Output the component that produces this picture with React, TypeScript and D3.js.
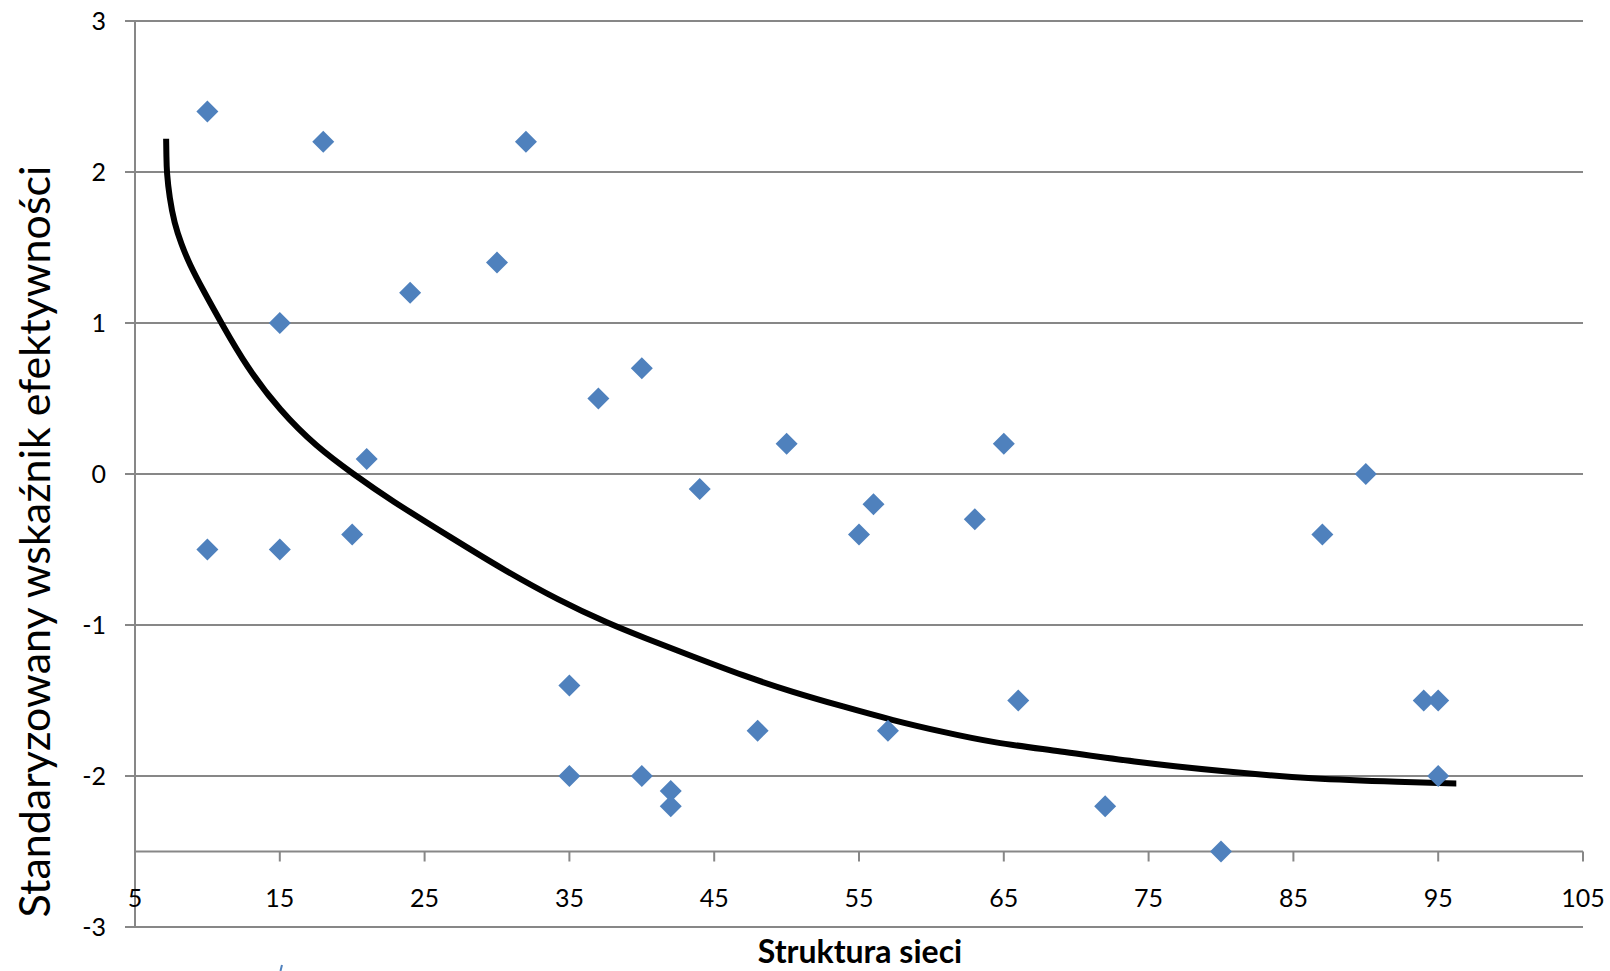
import { useEffect, useRef } from 'react';
import * as d3 from 'd3';

// Observed points (Struktura sieci vs standardized efficiency index)
const structureX = [10, 10, 15, 15, 18, 20, 21, 24, 30, 32, 35, 35, 37, 40, 40, 42, 42, 44, 48, 50, 55, 56, 57, 63, 65, 66, 72, 80, 87, 90, 94, 95, 95];
const efficiencyY = [2.4, -0.5, 1.0, -0.5, 2.2, -0.4, 0.1, 1.2, 1.4, 2.2, -1.4, -2.0, 0.5, 0.7, -2.0, -2.1, -2.2, -0.1, -1.7, 0.2, -0.4, -0.2, -1.7, -0.3, 0.2, -1.5, -2.2, -2.5, -0.4, 0.0, -1.5, -1.5, -2.0];

// Trend curve
const trendX = [7.15, 7.17, 7.19, 7.38, 7.72, 8.19, 8.76, 9.69, 10.96, 12.7, 15.0, 17.53, 20.07, 22.6, 26.98, 30.19, 34.31, 37.77, 40.07, 43.53, 46.98, 50.44, 53.9, 57.36, 60.81, 64.27, 68.88, 73.8, 80.1, 86.3, 92.6, 96.2, 96.25];
const trendY = [2.22, 2.1, 2.0, 1.83, 1.66, 1.525, 1.39, 1.22, 1.0, 0.71, 0.42, 0.18, 0.0, -0.17, -0.43, -0.62, -0.84, -0.993, -1.081, -1.209, -1.335, -1.445, -1.54, -1.632, -1.709, -1.78, -1.835, -1.905, -1.97, -2.02, -2.04, -2.05, -2.05];

const yTicks = [3, 2, 1, 0, -1, -2, -3];
const xTicks = [5, 15, 25, 35, 45, 55, 65, 75, 85, 95, 105];

const yTitle = 'Standaryzowany wskaźnik efektywności';
const xTitle = 'Struktura sieci';

const WIDTH = 1610;
const HEIGHT = 971;

export default function App() {
  const svgRef = useRef<SVGSVGElement>(null);

  useEffect(() => {
    if (!svgRef.current) return;
    const svg = d3.select(svgRef.current);
    svg.selectAll('*').remove();

    const x = d3.scaleLinear().domain([5, 105]).range([135, 1583]);
    const y = d3.scaleLinear().domain([-3, 3]).range([927, 21]);
    const axisY = y(-2.5);
    const gridColor = '#878787';
    const font = 'Lato, "Open Sans", sans-serif';

    svg.append('rect').attr('width', WIDTH).attr('height', HEIGHT).attr('fill', '#fff');

    // horizontal gridlines (with the small left ticks)
    svg.append('g')
      .selectAll('line')
      .data(yTicks)
      .join('line')
      .attr('x1', 125)
      .attr('x2', x(105))
      .attr('y1', d => y(d))
      .attr('y2', d => y(d))
      .attr('stroke', gridColor)
      .attr('stroke-width', 2);

    // vertical axis
    svg.append('line')
      .attr('x1', x(5)).attr('x2', x(5))
      .attr('y1', y(3)).attr('y2', y(-3))
      .attr('stroke', gridColor)
      .attr('stroke-width', 2);

    // horizontal axis crosses at -2.5
    svg.append('line')
      .attr('x1', x(5)).attr('x2', x(105))
      .attr('y1', axisY).attr('y2', axisY)
      .attr('stroke', gridColor)
      .attr('stroke-width', 2);

    svg.append('g')
      .selectAll('line')
      .data(xTicks.slice(1))
      .join('line')
      .attr('x1', d => x(d))
      .attr('x2', d => x(d))
      .attr('y1', axisY)
      .attr('y2', axisY + 10)
      .attr('stroke', gridColor)
      .attr('stroke-width', 2);

    // tick labels
    svg.append('g')
      .selectAll('text')
      .data(yTicks)
      .join('text')
      .attr('x', 106)
      .attr('y', d => y(d))
      .attr('dy', '0.35em')
      .attr('text-anchor', 'end')
      .style('font-family', font)
      .style('font-size', '25px')
      .style('fill', '#000')
      .text(d => d);

    svg.append('g')
      .selectAll('text')
      .data(xTicks)
      .join('text')
      .attr('x', d => x(d))
      .attr('y', 907)
      .attr('text-anchor', 'middle')
      .style('font-family', font)
      .style('font-size', '25px')
      .style('fill', '#000')
      .text(d => d);

    // trend curve (smoothed through the sampled points)
    const pts = trendX.map((v, i) => [v, trendY[i]] as [number, number]);
    const line = d3.line<[number, number]>()
      .x(d => x(d[0]))
      .y(d => y(d[1]))
      .curve(d3.curveBasis);

    svg.append('path')
      .attr('d', line(pts))
      .attr('fill', 'none')
      .attr('stroke', '#000')
      .attr('stroke-width', 6);

    // diamond markers
    const r = 11;
    const diamond = `M0,${-r}L${r},0L0,${r}L${-r},0Z`;
    svg.append('g')
      .selectAll('path')
      .data(structureX.map((v, i) => [v, efficiencyY[i]]))
      .join('path')
      .attr('transform', d => `translate(${x(d[0])},${y(d[1])})`)
      .attr('d', diamond)
      .attr('fill', '#4f81bd');

    // axis titles
    svg.append('text')
      .attr('transform', `translate(50,${(170 + 913) / 2}) rotate(-90)`)
      .attr('text-anchor', 'middle')
      .style('font-family', font)
      .style('font-size', '43px')
      .style('fill', '#000')
      .text(yTitle);

    svg.append('text')
      .attr('x', 860)
      .attr('y', 963)
      .attr('text-anchor', 'middle')
      .style('font-family', font)
      .style('font-size', '32px')
      .style('font-weight', 'bold')
      .style('fill', '#000')
      .text(xTitle);

    // small stray blue mark below the axis
    svg.append('line')
      .attr('x1', 282).attr('y1', 965)
      .attr('x2', 280.5).attr('y2', 971)
      .attr('stroke', '#4f81bd')
      .attr('stroke-width', 2);
  }, []);

  return (
    <div style={{ position: 'absolute', left: 0, top: 0 }}>
      <svg ref={svgRef} width={WIDTH} height={HEIGHT} style={{ display: 'block' }} />
    </div>
  );
}
